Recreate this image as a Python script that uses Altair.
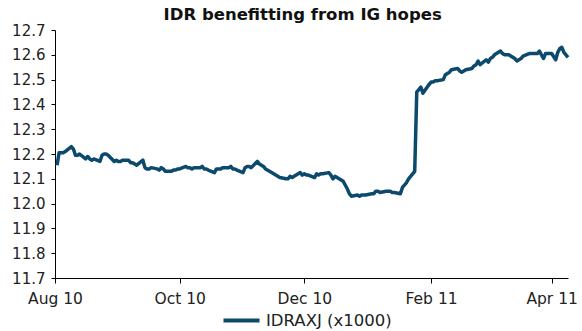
import altair as alt
import pandas as pd

series_name = "IDRAXJ (x1000)"

dates = [
    "2010-08-02", "2010-08-03", "2010-08-05", "2010-08-06", "2010-08-09", "2010-08-10",
    "2010-08-11", "2010-08-12", "2010-08-13", "2010-08-16", "2010-08-17", "2010-08-18",
    "2010-08-19", "2010-08-20", "2010-08-23", "2010-08-24", "2010-08-25", "2010-08-26",
    "2010-08-27", "2010-08-30", "2010-08-31", "2010-09-01", "2010-09-02", "2010-09-03",
    "2010-09-06", "2010-09-07", "2010-09-08", "2010-09-09", "2010-09-10", "2010-09-13",
    "2010-09-14", "2010-09-15", "2010-09-16", "2010-09-17", "2010-09-20", "2010-09-21",
    "2010-09-22", "2010-09-23", "2010-09-24", "2010-09-27", "2010-09-28", "2010-09-29",
    "2010-09-30", "2010-10-01", "2010-10-04", "2010-10-05", "2010-10-06", "2010-10-07",
    "2010-10-08", "2010-10-11", "2010-10-12", "2010-10-13", "2010-10-14", "2010-10-15",
    "2010-10-18", "2010-10-19", "2010-10-20", "2010-10-21", "2010-10-22", "2010-10-25",
    "2010-10-26", "2010-10-27", "2010-10-28", "2010-10-29", "2010-11-01", "2010-11-02",
    "2010-11-03", "2010-11-04", "2010-11-05", "2010-11-08", "2010-11-09", "2010-11-10",
    "2010-11-11", "2010-11-12", "2010-11-15", "2010-11-16", "2010-11-17", "2010-11-18",
    "2010-11-19", "2010-11-22", "2010-11-23", "2010-11-24", "2010-11-25", "2010-11-26",
    "2010-11-29", "2010-11-30", "2010-12-01", "2010-12-02", "2010-12-03", "2010-12-06",
    "2010-12-07", "2010-12-08", "2010-12-09", "2010-12-10", "2010-12-13", "2010-12-14",
    "2010-12-15", "2010-12-16", "2010-12-17", "2010-12-20", "2010-12-21", "2010-12-22",
    "2010-12-23", "2010-12-24", "2010-12-27", "2010-12-28", "2010-12-29", "2010-12-30",
    "2010-12-31", "2011-01-03", "2011-01-04", "2011-01-05", "2011-01-06", "2011-01-07",
    "2011-01-10", "2011-01-11", "2011-01-12", "2011-01-13", "2011-01-14", "2011-01-17",
    "2011-01-18", "2011-01-19", "2011-01-20", "2011-01-21", "2011-01-24", "2011-01-25",
    "2011-01-26", "2011-01-27", "2011-01-28", "2011-01-31", "2011-02-01", "2011-02-02",
    "2011-02-03", "2011-02-04", "2011-02-07", "2011-02-08", "2011-02-09", "2011-02-10",
    "2011-02-11", "2011-02-14", "2011-02-15", "2011-02-16", "2011-02-17", "2011-02-18",
    "2011-02-21", "2011-02-22", "2011-02-23", "2011-02-24", "2011-02-25", "2011-02-28",
    "2011-03-01", "2011-03-02", "2011-03-03", "2011-03-04", "2011-03-07", "2011-03-08",
    "2011-03-09", "2011-03-10", "2011-03-11", "2011-03-14", "2011-03-15", "2011-03-16",
    "2011-03-17", "2011-03-18", "2011-03-21", "2011-03-22", "2011-03-23", "2011-03-24",
    "2011-03-25", "2011-03-26", "2011-03-28", "2011-03-29", "2011-03-30", "2011-03-31",
    "2011-04-01", "2011-04-03", "2011-04-04", "2011-04-05", "2011-04-06", "2011-04-07",
    "2011-04-08", "2011-04-09",
]

values = [
    12.155, 12.205, 12.205, 12.21, 12.23, 12.22,
    12.195, 12.195, 12.20, 12.18, 12.19, 12.18,
    12.175, 12.18, 12.17, 12.195, 12.20, 12.20,
    12.195, 12.17, 12.175, 12.17, 12.17, 12.175,
    12.175, 12.165, 12.165, 12.16, 12.155, 12.175,
    12.145, 12.14, 12.14, 12.145, 12.14, 12.135,
    12.145, 12.14, 12.13, 12.13, 12.135, 12.135,
    12.14, 12.14, 12.15, 12.145, 12.145, 12.14,
    12.145, 12.145, 12.15, 12.14, 12.14, 12.135,
    12.125, 12.14, 12.14, 12.14, 12.145, 12.145,
    12.15, 12.14, 12.14, 12.135, 12.125, 12.145,
    12.15, 12.15, 12.145, 12.17, 12.16, 12.155,
    12.15, 12.14, 12.125, 12.12, 12.115, 12.11,
    12.105, 12.10, 12.10, 12.11, 12.105, 12.11,
    12.125, 12.115, 12.12, 12.115, 12.115, 12.105,
    12.12, 12.115, 12.12, 12.12, 12.125, 12.115,
    12.10, 12.11, 12.105, 12.09, 12.075, 12.06,
    12.04, 12.03, 12.035, 12.03, 12.035, 12.035,
    12.035, 12.04, 12.04, 12.05, 12.05, 12.045,
    12.05, 12.05, 12.05, 12.045, 12.045, 12.04,
    12.065, 12.075, 12.085, 12.10, 12.13, 12.45,
    12.46, 12.47, 12.445, 12.48, 12.49, 12.49,
    12.495, 12.495, 12.50, 12.52, 12.525, 12.53,
    12.54, 12.545, 12.535, 12.53, 12.535, 12.54,
    12.545, 12.555, 12.56, 12.575, 12.56, 12.58,
    12.57, 12.585, 12.59, 12.60, 12.615, 12.605,
    12.60, 12.60, 12.60, 12.585, 12.575, 12.58,
    12.585, 12.595, 12.605, 12.605, 12.605, 12.605,
    12.605, 12.615, 12.585, 12.605, 12.605, 12.605,
    12.605, 12.58, 12.61, 12.625, 12.63, 12.61,
    12.60, 12.59,
]

y_ticks = [11.7, 11.8, 11.9, 12.0, 12.1, 12.2, 12.3, 12.4, 12.5, 12.6, 12.7]
x_tick_dates = [(2010, 8), (2010, 10), (2010, 12), (2011, 2), (2011, 4)]

df = pd.DataFrame({"date": dates, "value": values, "series": series_name})

FONT = "DejaVu Sans"
LINE_COLOR = "#0b4a6c"

x_vals = [alt.DateTime(year=y, month=m, date=1, utc=True) for (y, m) in x_tick_dates]

chart = alt.Chart(df).mark_line(strokeWidth=3.5, strokeJoin="round").encode(
    x=alt.X(
        "date:T",
        scale=alt.Scale(
            type="utc",
            domain=[alt.DateTime(year=2010, month=8, date=1, utc=True),
                    alt.DateTime(year=2011, month=4, date=9, utc=True)],
        ),
        axis=alt.Axis(
            values=x_vals, format="%b %y", title=None, grid=False,
            domainColor="#000000", tickColor="#000000", tickSize=5,
            labelFont=FONT, labelFontSize=15.5, labelColor="#222222",
            labelPadding=8, labelFlush=False,
        ),
    ),
    y=alt.Y(
        "value:Q",
        scale=alt.Scale(domain=[11.7, 12.7], nice=False, zero=False),
        axis=alt.Axis(
            values=y_ticks, format=".1f", title=None, grid=False,
            domainColor="#000000", tickColor="#000000", tickSize=4,
            labelFont=FONT, labelFontSize=15, labelColor="#222222",
            labelPadding=6,
        ),
    ),
    color=alt.Color(
        "series:N",
        scale=alt.Scale(range=[LINE_COLOR]),
        legend=alt.Legend(
            title=None, orient="none", legendX=166, legendY=270,
            symbolType="stroke", symbolSize=1300, symbolStrokeWidth=4,
            labelFont=FONT, labelFontSize=16.5, labelColor="#222222",
            labelOffset=4,
        ),
    ),
).properties(
    width=513,
    height=248,
    title=alt.TitleParams(
        "IDR benefitting from IG hopes", font=FONT, fontSize=16.5,
        fontWeight="bold", color="#111111", anchor="start", dx=152, offset=0,
    ),
    autosize=alt.AutoSizeParams(type="none"),
    padding={"left": 55, "top": 30, "right": 14, "bottom": 53},
).configure_view(stroke=None)

chart.save("out.html", embed_options={"renderer": "svg", "actions": False})
